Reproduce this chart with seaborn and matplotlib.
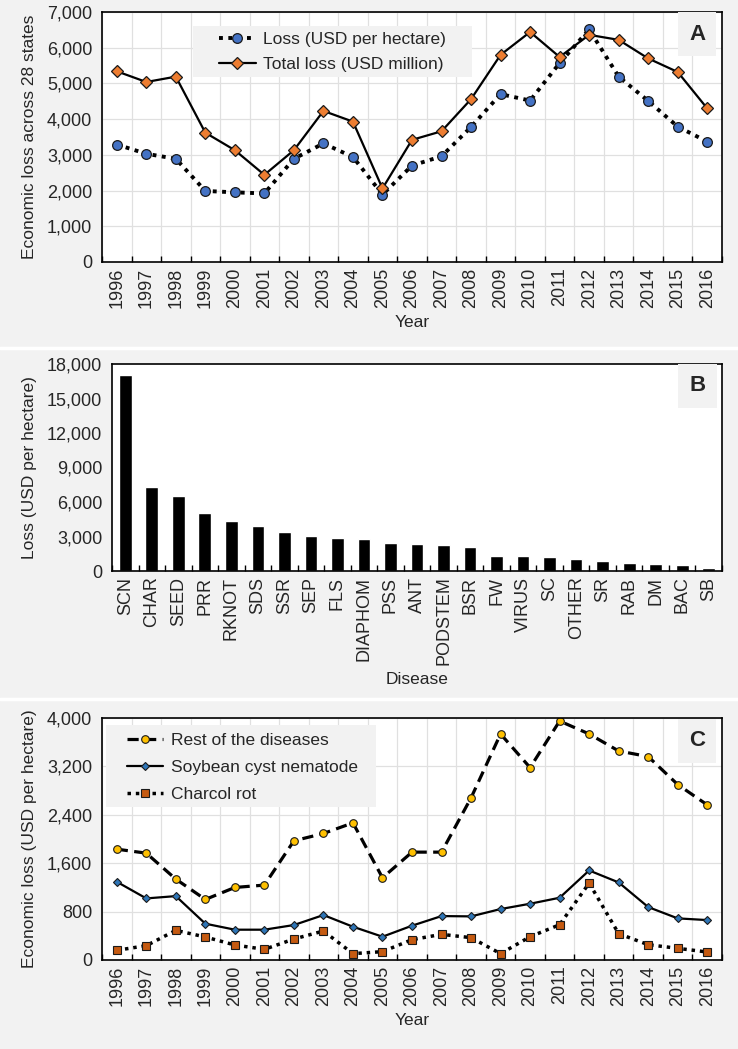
import matplotlib
matplotlib.use('Agg')
import matplotlib.pyplot as plt
import seaborn as sns
import numpy as np
from matplotlib.ticker import FuncFormatter, FixedLocator
from matplotlib.lines import Line2D
from matplotlib.patches import Rectangle

sns.set_theme(style='white')
plt.rcParams['font.family'] = ['Liberation Sans', 'DejaVu Sans']

# ---- data ----
years = list(range(1996, 2017))

loss_per_ha = [3290, 3030, 2890, 1990, 1950, 1920, 2890, 3320, 2940, 1890, 2700,
               2960, 3780, 4700, 4520, 5570, 6510, 5190, 4510, 3790, 3370]
total_loss = [5340, 5040, 5190, 3620, 3130, 2440, 3130, 4230, 3930, 2060, 3420,
              3660, 4560, 5800, 6440, 5740, 6360, 6220, 5700, 5320, 4300]

diseases = ['SCN', 'CHAR', 'SEED', 'PRR', 'RKNOT', 'SDS', 'SSR', 'SEP', 'FLS',
            'DIAPHOM', 'PSS', 'ANT', 'PODSTEM', 'BSR', 'FW', 'VIRUS', 'SC',
            'OTHER', 'SR', 'RAB', 'DM', 'BAC', 'SB']
disease_loss = [17070, 7300, 6480, 5060, 4330, 3900, 3430, 3050, 2850, 2790,
                2470, 2330, 2270, 2120, 1340, 1310, 1190, 1080, 840, 670, 640,
                490, 260]

rest_loss = [1832, 1766, 1337, 1001, 1199, 1238, 1970, 2091, 2267, 1359, 1783,
             1783, 2680, 3736, 3180, 3950, 3736, 3455, 3362, 2900, 2564]
scn_loss = [1293, 1018, 1056, 600, 501, 501, 578, 743, 550, 385, 567, 726, 721,
            842, 930, 1029, 1480, 1282, 875, 688, 660]
char_loss = [160, 237, 490, 380, 248, 176, 347, 479, 105, 138, 336, 424, 369,
             105, 385, 583, 1271, 435, 253, 193, 132]

BG = '#f2f2f2'
W, H = 738, 1049
fig = plt.figure(figsize=(W / 100, H / 100), dpi=100, facecolor=BG)


def px_axes(left, top, right, bottom):
    return fig.add_axes([left / W, 1 - bottom / H, (right - left) / W, (bottom - top) / H])


comma = FuncFormatter(lambda v, p: f'{v:,.0f}')
FS = 13      # tick labels
LFS = 12.5   # axis labels and legends


def style_axes(ax, n, grid_x=True, grid_y=True):
    ax.set_facecolor('white')
    for s in ax.spines.values():
        s.set_color('black')
        s.set_linewidth(1.2)
    ax.set_xlim(-0.5, n - 0.5)
    ax.xaxis.set_minor_locator(FixedLocator(np.arange(-0.5, n, 1.0)))
    ax.tick_params(axis='x', which='major', length=0, labelsize=FS, pad=4)
    ax.tick_params(axis='x', which='minor', length=4, direction='in',
                   width=1, color='black', bottom=True)
    ax.tick_params(axis='y', length=0, labelsize=FS, pad=7)
    ax.yaxis.set_major_formatter(comma)
    if grid_x:
        ax.grid(True, which='minor', axis='x', color='#e0e0e0', lw=0.9)
    if grid_y:
        ax.grid(True, which='major', axis='y', color='#e0e0e0', lw=0.9)
    ax.set_axisbelow(True)


def panel_label(ax, letter, xc, yc):
    ax.text(xc, yc, letter, transform=ax.transAxes, ha='center', va='center',
            fontsize=16, fontweight='bold', zorder=5,
            bbox=dict(boxstyle='square,pad=0.5', fc=BG, ec='none'))


def add_legend(ax, box, anchor, spacing):
    # grey legend panel drawn as its own patch, legend text placed on top
    x0, y0, x1, y1 = box
    ax.add_patch(Rectangle((x0, y0), x1 - x0, y1 - y0, transform=ax.transAxes,
                           fc=BG, ec='none', zorder=1.5))
    ax.legend(loc='upper left', bbox_to_anchor=anchor, fontsize=LFS,
              frameon=False, handlelength=2.1, borderpad=0,
              labelspacing=spacing, handletextpad=0.45, borderaxespad=0)


xi = np.arange(len(years))

# ---- panel A ----
axA = px_axes(102, 12, 722, 262)
sns.lineplot(x=xi, y=loss_per_ha, ax=axA, color='black', linestyle=(0, (1, 1.4)),
             lw=2.8, marker='o', markersize=7, markerfacecolor='#4472c4',
             markeredgecolor='#1a1a1a', markeredgewidth=0.9,
             label='Loss (USD per hectare)')
sns.lineplot(x=xi, y=total_loss, ax=axA, color='black', lw=1.6, marker='D',
             markersize=6, markerfacecolor='#ed7d31', markeredgecolor='#1a1a1a',
             markeredgewidth=0.9, label='Total loss (USD million)')
style_axes(axA, len(years))
axA.set_ylim(0, 7000)
axA.set_yticks(range(0, 7001, 1000))
axA.set_xticks(xi)
axA.set_xticklabels(years, rotation=90)
axA.set_xlabel('Year', fontsize=LFS, labelpad=5)
axA.set_ylabel('Economic loss across 28 states', fontsize=LFS, labelpad=7)
add_legend(axA, (0.147, 0.74, 0.597, 0.944), (0.189, 0.920), 0.55)
panel_label(axA, 'A', 0.960, 0.912)

# ---- panel B ----
axB = px_axes(112, 364, 722, 571)
sns.barplot(x=diseases, y=disease_loss, ax=axB, color='black', width=0.48,
            saturation=1)
style_axes(axB, len(diseases), grid_x=False, grid_y=False)
axB.set_ylim(0, 18000)
axB.set_yticks(range(0, 18001, 3000))
axB.set_xticks(range(len(diseases)))
axB.set_xticklabels(diseases, rotation=90)
axB.set_xlabel('Disease', fontsize=LFS, labelpad=5)
axB.set_ylabel('Loss (USD per hectare)', fontsize=LFS, labelpad=7)
panel_label(axB, 'B', 0.960, 0.894)

# ---- panel C ----
axC = px_axes(102, 718, 722, 960)
sns.lineplot(x=xi, y=rest_loss, ax=axC, color='black', linestyle=(0, (3.5, 2)),
             lw=2.3, marker='o', markersize=5.5, markerfacecolor='#ffc000',
             markeredgecolor='#1a1a1a', markeredgewidth=0.8,
             label='Rest of the diseases')
sns.lineplot(x=xi, y=scn_loss, ax=axC, color='black', lw=1.6, marker='D',
             markersize=4.5, markerfacecolor='#2e75b6', markeredgecolor='#1a1a1a',
             markeredgewidth=0.8, label='Soybean cyst nematode')
sns.lineplot(x=xi, y=char_loss, ax=axC, color='black', linestyle=(0, (1, 1.4)),
             lw=2.5, marker='s', markersize=5.5, markerfacecolor='#c55a11',
             markeredgecolor='#1a1a1a', markeredgewidth=0.8, label='Charcol rot')
style_axes(axC, len(years))
axC.set_ylim(0, 4000)
axC.set_yticks(range(0, 4001, 800))
axC.set_xticks(xi)
axC.set_xticklabels(years, rotation=90)
axC.set_xlabel('Year', fontsize=LFS, labelpad=5)
axC.set_ylabel('Economic loss (USD per hectare)', fontsize=LFS, labelpad=7)
add_legend(axC, (0.006, 0.632, 0.442, 0.971), (0.040, 0.938), 0.68)
panel_label(axC, 'C', 0.960, 0.905)

# white strips between the panels
for yy in (348, 699):
    fig.add_artist(Line2D([0, 1], [1 - yy / H] * 2, color='white', lw=2.5,
                          transform=fig.transFigure))

fig.savefig('out.png', dpi=100, facecolor=BG)
